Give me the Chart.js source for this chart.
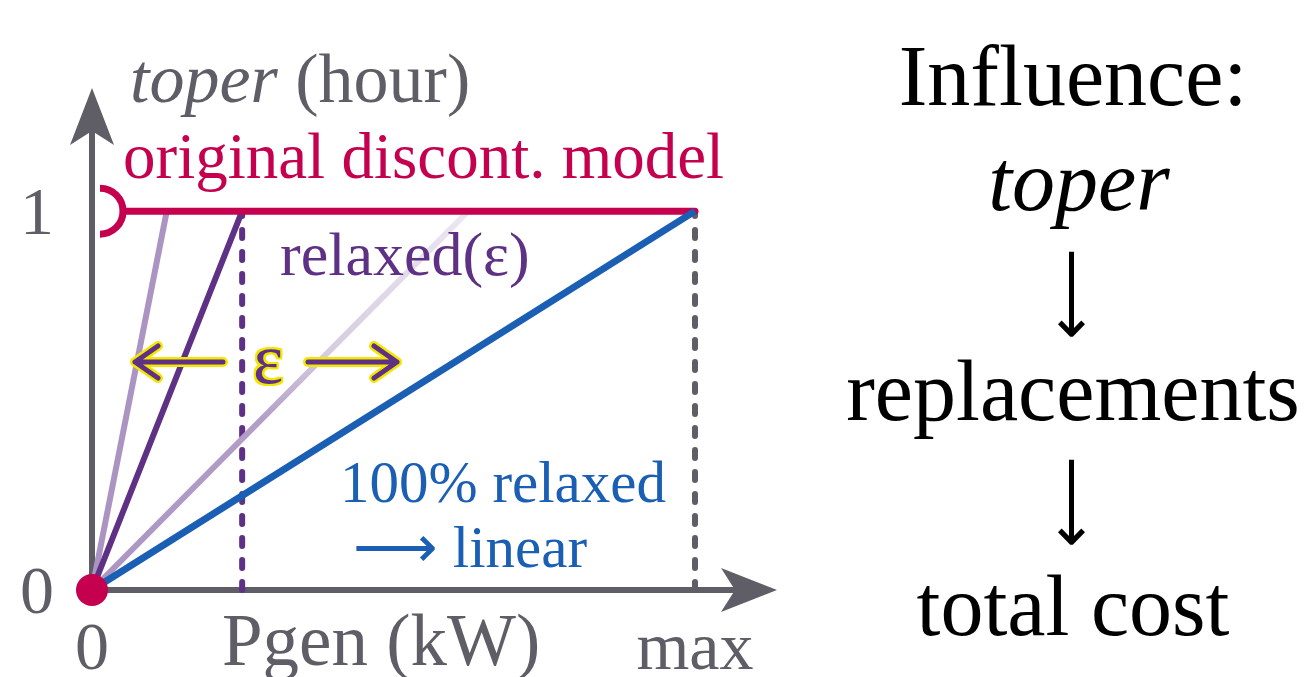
<!DOCTYPE html>
<html>
<head>
<meta charset="utf-8">
<script src="https://cdn.jsdelivr.net/npm/chart.js@4.4.1/dist/chart.umd.min.js"></script>
<style>
  body { margin: 0; background: #fff; }
  #wrap { position: relative; width: 1306px; height: 677px; overflow: hidden; }
  #wrap canvas { position: absolute; left: 0; top: 0; }
  .lbl { position: absolute; font-family: "Liberation Serif", serif; line-height: 1; white-space: nowrap; }
  .eps { text-shadow: 2px 0 #f3e600, -2px 0 #f3e600, 0 2px #f3e600, 0 -2px #f3e600,
         2px 2px #f3e600, -2px -2px #f3e600, 2px -2px #f3e600, -2px 2px #f3e600; }
  .down { transform: translate(-50%, -50%) rotate(90deg); }
</style>
</head>
<body>
<div id="wrap">
  <canvas id="sketchChart" width="1306" height="677"></canvas>
</div>
<script>
// x where each relaxed ramp reaches toper = 1 (max = 1)
const rampEnds = [0.124, 0.249, 0.624, 1.0];
const rampNames = ["relaxed (small eps)", "relaxed(eps)", "relaxed (large eps)", "100% relaxed"];
// original discontinuous model: jumps to 1 right after 0
const origX = [0.052, 1.0];
const origY = [1, 1];
// dashed guides
const guideX = [0.249, 1.0];
// ticks
const xTickVals = [0, 1];
const xTickLabels = ["0", "max"];
const yTickVals = [0, 1];
const yTickLabels = ["0", "1"];

const gray = "#5f5e66";
const crimson = "#c4004f";
const purple = "#5e3185";
const lilac = "#ab94c2";
const blue = "#1a5fb4";
const yellow = "#f3e600";

function fadeColor(context) {
  const chart = context.chart;
  const { ctx, chartArea, scales } = chart;
  if (!chartArea) return lilac;
  let g = ctx.createLinearGradient(0, scales.y.getPixelForValue(0), 0, scales.y.getPixelForValue(1));
  g.addColorStop(0, lilac);
  g.addColorStop(0.45, "#b39ec8");
  g.addColorStop(0.62, "#d6cbe0");
  g.addColorStop(1, "#ece7f1");
  return g;
}

let rampColors = [lilac, purple, fadeColor, blue];
let datasets = [];

datasets.push({
  label: "origin",
  data: [{ x: 0, y: 0 }],
  showLine: false,
  pointRadius: 16,
  pointBackgroundColor: crimson,
  pointBorderWidth: 0,
  order: 0,
});

datasets.push({
  label: "original discont. model",
  data: origX.map((x, i) => ({ x: x, y: origY[i] })),
  borderColor: crimson,
  borderWidth: 7,
  borderCapStyle: "round",
  pointRadius: 0,
  order: 2,
});

rampEnds.forEach((end, i) => {
  datasets.push({
    label: rampNames[i],
    data: [{ x: 0, y: 0 }, { x: end, y: 1 }],
    borderColor: rampColors[i],
    borderWidth: i == 3 ? 7 : 6,
    pointRadius: 0,
    order: i == 3 ? 1 : 3 + (3 - i),
  });
});

guideX.forEach((gx, i) => {
  datasets.push({
    label: "guide " + i,
    data: [{ x: gx, y: 0 }, { x: gx, y: 1 }],
    borderColor: i == 0 ? purple : gray,
    borderWidth: 6,
    borderDash: [8, 14],
    borderCapStyle: "round",
    pointRadius: 0,
    order: 8,
  });
});

const sketchPlugin = {
  id: "sketch",
  beforeDatasetsDraw(chart) {
    const c = chart.ctx;
    const xs = chart.scales.x, ys = chart.scales.y;
    const ox = xs.getPixelForValue(0), oy = ys.getPixelForValue(0);
    const right = xs.right, top = ys.top;
    c.save();
    c.strokeStyle = gray;
    c.fillStyle = gray;
    c.lineWidth = 6;
    c.beginPath();
    c.moveTo(ox, oy);
    c.lineTo(right - 30, oy);
    c.moveTo(ox, oy);
    c.lineTo(ox, top + 30);
    c.stroke();
    // arrow heads
    c.beginPath();
    c.moveTo(right, oy);
    c.lineTo(right - 56, oy - 22);
    c.lineTo(right - 42, oy);
    c.lineTo(right - 56, oy + 22);
    c.closePath();
    c.fill();
    c.beginPath();
    c.moveTo(ox, top);
    c.lineTo(ox - 22, top + 57);
    c.lineTo(ox, top + 43);
    c.lineTo(ox + 22, top + 57);
    c.closePath();
    c.fill();
    c.restore();
  },
  afterDatasetsDraw(chart) {
    const c = chart.ctx;
    const xs = chart.scales.x, ys = chart.scales.y;
    // open end of the discontinuous model
    c.save();
    c.strokeStyle = crimson;
    c.lineWidth = 7;
    c.beginPath();
    c.arc(xs.getPixelForValue(0) + 8, ys.getPixelForValue(1), 23, -Math.PI / 2, Math.PI / 2);
    c.stroke();
    // epsilon arrows
    let y = 362;
    let arrows = [[223, 135], [308, 397]];
    [[yellow, 10], [purple, 5]].forEach(([col, w]) => {
      c.strokeStyle = col;
      c.lineWidth = w;
      c.lineCap = "round";
      c.lineJoin = "round";
      arrows.forEach(([a, b]) => {
        let d = b > a ? -1 : 1;
        c.beginPath();
        c.moveTo(a, y);
        c.lineTo(b, y);
        c.moveTo(b + d * 23, y - 16);
        c.lineTo(b, y);
        c.lineTo(b + d * 23, y + 16);
        c.stroke();
      });
    });
    c.restore();
  },
};

const ctx = document.getElementById("sketchChart").getContext("2d");
const sketchChart = new Chart(ctx, {
  type: "line",
  data: { datasets: datasets },
  plugins: [sketchPlugin],
  options: {
    responsive: false,
    animation: false,
    layout: { padding: { left: 0, right: 529, top: 88, bottom: 0 } },
    plugins: { legend: { display: false }, tooltip: { enabled: false } },
    elements: { line: { tension: 0 } },
    clip: false,
    scales: {
      x: {
        type: "linear",
        min: 0,
        max: 1.136,
        grid: { display: false, drawTicks: false },
        border: { display: false },
        afterFit: (scale) => { scale.height = 87; },
        afterBuildTicks: (scale) => { scale.ticks = xTickVals.map((v) => ({ value: v })); },
        ticks: {
          padding: 20,
          color: gray,
          font: { family: "Liberation Serif", size: 68 },
          maxRotation: 0,
          callback: (v) => xTickLabels[xTickVals.indexOf(v)],
        },
      },
      y: {
        type: "linear",
        min: 0,
        max: 1.325,
        grid: { display: false, drawTicks: false },
        border: { display: false },
        afterFit: (scale) => { scale.width = 92; },
        afterBuildTicks: (scale) => { scale.ticks = yTickVals.map((v) => ({ value: v })); },
        ticks: {
          padding: 38,
          labelOffset: 5,
          color: gray,
          font: { family: "Liberation Serif", size: 68 },
          callback: (v) => yTickLabels[yTickVals.indexOf(v)],
        },
      },
    },
  },
});

// text labels, positioned by baseline
function addLabel(html, left, baseline, size, color, align) {
  let el = document.createElement("div");
  el.className = "lbl";
  el.innerHTML = html;
  el.style.fontSize = size + "px";
  el.style.color = color;
  el.style.top = (baseline - 0.8375 * size) + "px";
  el.style.left = left + "px";
  if (align == "center") el.style.transform = "translateX(-50%)";
  document.getElementById("wrap").appendChild(el);
  return el;
}

function addDownArrow(cx, cy) {
  let el = document.createElement("div");
  el.className = "lbl down";
  el.textContent = "⟶";
  el.style.fontSize = "64px";
  el.style.left = cx + "px";
  el.style.top = cy + "px";
  document.getElementById("wrap").appendChild(el);
}

addLabel("<i>toper</i> (hour)", 130, 103, 70, gray);
addLabel("original discont. model", 123, 178, 65, crimson);
addLabel("relaxed(ε)", 280, 275, 62, purple);
addLabel("100% relaxed", 340, 502, 59, blue);
addLabel("⟶ linear", 353, 567, 59, blue);
addLabel("Pgen (kW)", 222, 665, 73, gray);
addLabel("ε", 268, 383, 72, purple, "center").classList.add("eps");

addLabel("Influence:", 1073, 105, 86, "#000", "center");
addLabel("<i>toper</i>", 1079, 210, 86, "#000", "center");
addDownArrow(1073, 294);
addLabel("replacements", 1073, 420, 86, "#000", "center");
addDownArrow(1073, 502);
addLabel("total cost", 1073, 635, 86, "#000", "center");
</script>
</body>
</html>
